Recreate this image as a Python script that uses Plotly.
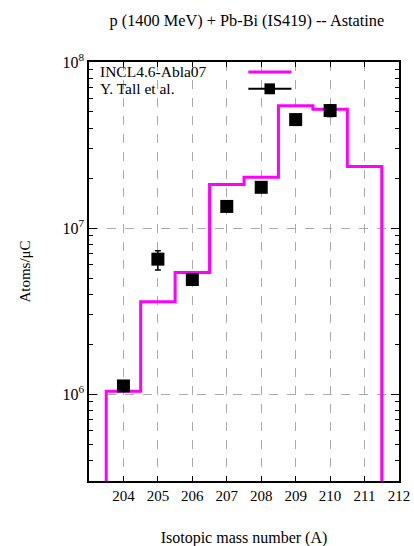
import plotly.graph_objects as go

# Model histogram (INCL4.6-Abla07): bin edges and values
edges = [203.5, 204.5, 205.5, 206.5, 207.5, 208.5, 209.5, 210.5, 211.5]
model = [1.04e6, 3.6e6, 5.4e6, 1.83e7, 2.02e7, 5.45e7, 5.2e7, 2.35e7]

# Measurements (Y. Tall et al.)
mass = [204, 205, 206, 207, 208, 209, 210]
meas = [1.12e6, 6.5e6, 4.9e6, 1.35e7, 1.76e7, 4.5e7, 5.1e7]
err_plus = [0.06e6, 0.8e6, 0.2e6, 0.5e6, 0.6e6, 1.5e6, 4.0e6]
err_minus = [0.06e6, 0.9e6, 0.2e6, 0.5e6, 0.6e6, 1.5e6, 4.0e6]

x_ticks = [204, 205, 206, 207, 208, 209, 210, 211, 212]
y_ticks = [1e6, 1e7, 1e8]
y_ticktext = ["10<sup>6</sup>", "10<sup>7</sup>", "10<sup>8</sup>"]
y_minor = [m * d for d in (1e5, 1e6, 1e7) for m in range(2, 10)]

floor = 1e5  # histogram drops below the axis
hx = [edges[0]]
hy = [floor]
for i, v in enumerate(model):
    hx += [edges[i], edges[i + 1]]
    hy += [v, v]
hx.append(edges[-1])
hy.append(floor)

FONT = "Liberation Serif"
YR = [5.477, 8]
fig = go.Figure()
fig.add_trace(go.Scatter(x=hx, y=hy, mode="lines",
                         line=dict(color="#ff00ff", width=3),
                         name="INCL4.6-Abla07", showlegend=False))
fig.add_trace(go.Scatter(x=mass, y=meas, mode="markers",
                         marker=dict(symbol="square", size=13, color="black"),
                         error_y=dict(type="data", symmetric=False, array=err_plus,
                                      arrayminus=err_minus, color="black",
                                      thickness=1.5, width=3),
                         name="Y. Tall et al.", showlegend=False))

axis_common = dict(showline=True, linecolor="black", linewidth=1.5, mirror="ticks",
                   ticks="inside", tickcolor="black",
                   showgrid=True, gridcolor="#aaaaaa", griddash="dash", gridwidth=1,
                   zeroline=False)

fig.update_layout(
    xaxis=dict(range=[203, 212], tickvals=x_ticks, ticklen=5,
               tickfont=dict(family=FONT, size=15, color="black"),
               title=dict(text="Isotopic mass number (A)", font=dict(family=FONT, size=16, color="black"),
                          standoff=29),
               **axis_common),
    yaxis=dict(type="log", range=YR, tickvals=y_ticks, ticktext=y_ticktext, ticklen=8,
               tickfont=dict(family=FONT, size=16, color="black"),
               minor=dict(tickmode="array", tickvals=y_minor, ticks="inside", ticklen=4,
                          tickcolor="black", showgrid=False),
               title=dict(text="Atoms/μC", font=dict(family=FONT, size=15, color="black"),
                          standoff=28),
               **axis_common),
)

# Legend drawn in paper coordinates (sample to the right of text)
fig.add_annotation(x=0.03, y=0.978, xref="paper", yref="paper", text="INCL4.6-Abla07",
                   showarrow=False, xanchor="left", yanchor="middle",
                   font=dict(family=FONT, size=15.5, color="black"))
fig.add_annotation(x=0.03, y=0.936, xref="paper", yref="paper", text="Y. Tall et al.",
                   showarrow=False, xanchor="left", yanchor="middle",
                   font=dict(family=FONT, size=15.5, color="black"))
fig.add_shape(type="line", xref="paper", yref="paper", x0=0.514, x1=0.653, y0=0.976, y1=0.976,
              line=dict(color="#ff00ff", width=3))
fig.add_shape(type="line", xref="paper", yref="paper", x0=0.514, x1=0.653, y0=0.936, y1=0.936,
              line=dict(color="black", width=2))
fig.add_shape(type="rect", xref="paper", yref="paper", x0=0.566, x1=0.6, y0=0.923, y1=0.949,
              line=dict(color="black", width=0), fillcolor="black")

fig.update_layout(
    width=422, height=556,
    margin=dict(l=89, r=16, t=62, b=65),
    paper_bgcolor="white", plot_bgcolor="white",
    title=dict(text="p (1400 MeV) + Pb-Bi (IS419) -- Astatine", x=0.585, xanchor="center",
               y=0.963, yanchor="middle", font=dict(family=FONT, size=16.3, color="black")),
    showlegend=False,
)

fig.write_html("out.html")
